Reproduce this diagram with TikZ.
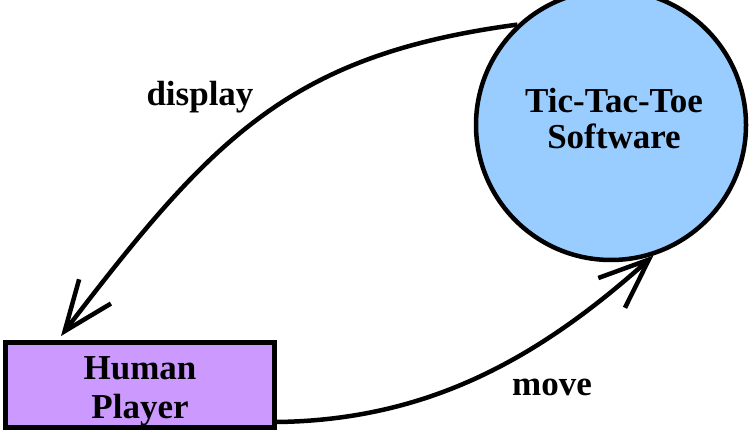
\documentclass[tikz,border=0pt]{standalone}
\usepackage{fontspec}
\setmainfont{Liberation Serif}
\usetikzlibrary{arrows.meta}
\definecolor{boxpurple}{HTML}{CC99FF}
\definecolor{circblue}{HTML}{99CCFF}
\tikzset{
  playerbox/.style={draw=black, line width=5pt, fill=boxpurple, rectangle, minimum width=269pt, minimum height=85pt, inner sep=0pt},
  softcircle/.style={draw=black, line width=4.5pt, fill=circblue, circle, minimum size=270pt, inner sep=0pt},
  bigtext/.style={font=\bfseries\fontsize{35}{36}\selectfont, inner sep=0pt, align=center},
  flow/.style={line width=4.5pt, -{Straight Barb[length=50pt, width=40pt]}},
}
\begin{document}
\begin{tikzpicture}[x=1pt, y=1pt]
  \clip (0,0) rectangle (754,441);
  \node[softcircle] (sw) at (611,316) {};
  \node[playerbox] (hp) at (140,56) {};
  \node[bigtext, anchor=north] (swtext) at (614,353) {Tic-Tac-Toe\\Software};
  \node[bigtext, anchor=north, font=\bfseries\fontsize{35}{39}\selectfont] (hptext) at (140,85) {Human\\Player};
  \draw[flow] (sw.133.5) .. controls (290,386) and (213,304) .. ([xshift=58pt, yshift=4pt]hp.north west);
  \draw[flow] ([yshift=8pt]hp.south east) .. controls (430,21) and (540,84) .. (sw.-72);
  \node[bigtext, anchor=base] (displaylabel) at (200,335) {display};
  \node[bigtext, anchor=base] (movelabel) at (552,45) {move};
\end{tikzpicture}
\end{document}
